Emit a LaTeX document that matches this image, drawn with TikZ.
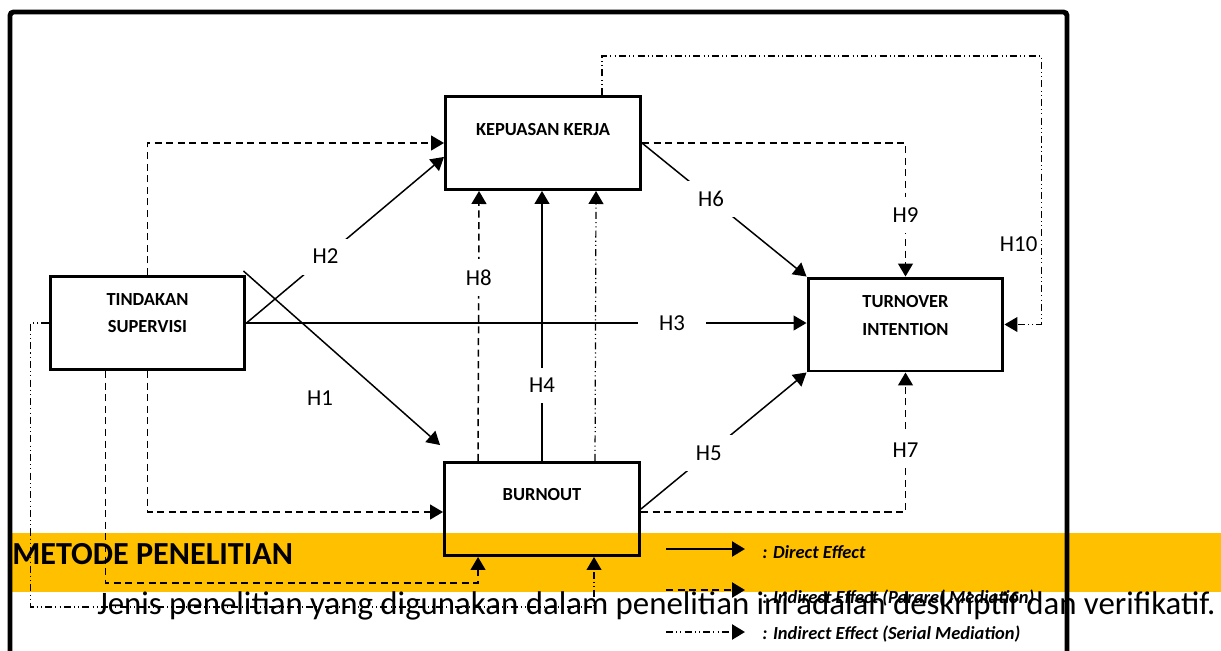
\documentclass[tikz,border=0pt]{standalone}
\usepackage{fontspec}
\setmainfont{Carlito}
\usetikzlibrary{arrows.meta}
\definecolor{bandgold}{HTML}{FFC000}
\begin{document}
\begin{tikzpicture}[x=0.02cm, y=-0.02cm,
        varbox/.style={draw, line width=1.7pt, minimum width=3.9cm, minimum height=1.86cm, inner sep=0pt},
        vartext/.style={font=\bfseries\fontsize{10.5}{15.4}\selectfont, align=center},
        dirfx/.style={line width=0.85pt, -{Triangle[length=7.4pt,width=8.5pt]}},
        parfx/.style={dirfx, dash pattern=on 4pt off 2.6pt},
        serfx/.style={dirfx, line width=0.7pt, dash pattern=on 4pt off 1.8pt on 0.6pt off 1.8pt on 0.6pt off 1.8pt},
        hyp/.style={font=\fontsize{13}{15}\selectfont, fill=white, inner xsep=12pt, inner ysep=6pt},
        legtext/.style={font=\bfseries\itshape\fontsize{10.5}{12}\selectfont, anchor=west, inner sep=0pt}]
    \useasboundingbox (0,0) rectangle (1221,650);
    \fill[bandgold] (12,533) rectangle (1221,592);
    \node[font=\bfseries\fontsize{18.3}{22}\selectfont, anchor=west, inner sep=0pt] (judul) at (12,554) {METODE PENELITIAN};
    \node[font=\fontsize{18.7}{22}\selectfont, anchor=west, inner sep=0pt] (isi) at (97,606) {Jenis penelitian yang digunakan dalam penelitian ini adalah deskriptif dan verifikatif.};
    \draw[line width=2.8pt, rounded corners=2pt] (10,700) -- (10,12) -- (1067,12) -- (1067,700);

    \node[varbox, label={[vartext, yshift=0.19cm]center:TINDAKAN\\SUPERVISI}] (ts) at (147.5,323) {};
    \node[varbox, label={[vartext, yshift=0.26cm]center:KEPUASAN KERJA}] (kp) at (543,143) {};
    \node[varbox, label={[vartext, yshift=0.28cm]center:BURNOUT}] (bo) at (542,509) {};
    \node[varbox, label={[vartext, yshift=0.18cm]center:TURNOVER\\INTENTION}] (ti) at (905.5,324.5) {};

    \draw[parfx] (ts.north) |- (kp.west);
    \draw[dirfx] (ts.east) -- node[hyp, pos=0.4] {H2} (kp.188);
    \draw[dirfx] ([shift={(-3,-4)}]ts.north east) -- node[hyp, fill=none, pos=0.39, yshift=-1.18cm] {H1} ([shift={(-3,-16)}]bo.north west);
    \draw[dirfx] (ts.east) -- node[hyp, pos=0.76] {H3} (ts.east -| ti.west);
    \draw[dirfx] (bo.north) -- node[hyp, pos=0.28] {H4} (bo.north |- kp.south);
    \draw[parfx] ([shift={(35,0)}]bo.north west) -- node[hyp, pos=0.68] {H8} ([shift={(35,0)}]kp.south west);
    \draw[serfx] ([shift={(152,0)}]bo.north west) -- ([shift={(152,0)}]kp.south west);
    \draw[parfx] (ts.south) |- ([shift={(0,3)}]bo.west);
    \draw[parfx] ([shift={(-42,0)}]ts.south) |- ([shift={(35,26)}]bo.south west) -- ([shift={(35,0)}]bo.south west);
    \draw[serfx] (ts.west) -- ++(-18,0) |- ([shift={(151,50)}]bo.south west) -- ([shift={(151,0)}]bo.south west);
    \draw[dirfx] (kp.east) -- node[hyp, pos=0.42] {H6} (ti.north west);
    \draw[parfx] (kp.east) -| node[hyp, pos=0.77] {H9} (ti.north);
    \draw[dirfx] (bo.east) -- node[hyp, pos=0.41] {H5} (ti.south west);
    \draw[parfx] ([shift={(0,3)}]bo.east) -| node[hyp, pos=0.72] {H7} (ti.south);
    \draw[serfx] ([shift={(59,0)}]kp.north) -- ++(0,-39) -| node[hyp, fill=none, inner sep=2pt, pos=0.85, anchor=east] {H10} ([shift={(37,0)}]ti.east) -- (ti.east);

    \node[legtext] (ld) at (762,552) {: Direct Effect};
    \node[legtext] (lp) at (762,598) {: Indirect Effect (Parare( Mediation)};
    \node[legtext] (ls) at (762,634) {: Indirect Effect (Serial Mediation)};
    \draw[dirfx, line width=1.5pt] ([shift={(-96,-3)}]ld.west) -- ([shift={(-17,-3)}]ld.west);
    \draw[parfx, line width=1.5pt] ([shift={(-96,-8)}]lp.west) -- ([shift={(-17,-8)}]lp.west);
    \draw[serfx, line width=1.5pt] ([shift={(-96,-2)}]ls.west) -- ([shift={(-17,-2)}]ls.west);
\end{tikzpicture}
\end{document}
